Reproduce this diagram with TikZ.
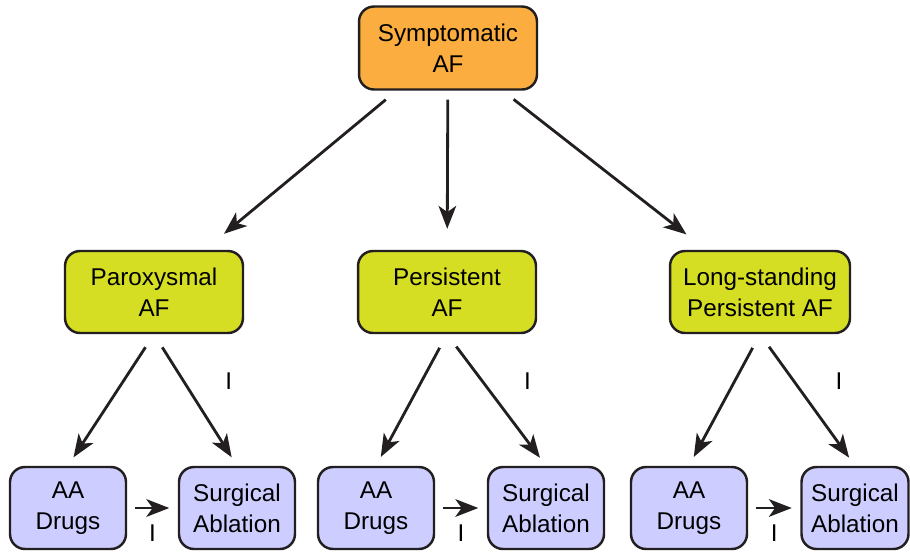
\documentclass[tikz,border=0pt]{standalone}
\usepackage{fontspec}
\setmainfont{Liberation Sans}
\usetikzlibrary{arrows.meta}
\definecolor{symorange}{HTML}{FBAE3F}
\definecolor{typegreen}{HTML}{D6DE23}
\definecolor{treatblue}{HTML}{CDCDFF}
\definecolor{edgegray}{HTML}{231F20}
\tikzset{
  afbox/.style={draw=edgegray, line width=1.4pt, rounded corners=0.3cm, align=center,
    font=\fontsize{13.8}{17.6}\selectfont, inner sep=2pt},
  topbox/.style={afbox, fill=symorange, minimum width=3.56cm, minimum height=1.66cm},
  typebox/.style={afbox, fill=typegreen, minimum width=3.56cm, minimum height=1.64cm},
  treatbox/.style={afbox, fill=treatblue, minimum width=2.32cm, minimum height=1.64cm},
  arr/.style={line width=1.6pt, draw=edgegray, -{Stealth[length=13pt,width=10pt,inset=3.5pt]}},
  cls/.style={font=\fontsize{13.8}{17.6}\selectfont, inner sep=0pt}
}
\begin{document}
\begin{tikzpicture}[x=0.02cm, y=-0.02cm]
 \useasboundingbox (0,0) rectangle (910,552);
 \node[topbox] at (448, 48)  (sym)    {Symptomatic\\AF};

 \node[typebox] at (154, 292)  (par)    {Paroxysmal\\AF};
 \node[typebox] at (447, 292)  (per)    {Persistent\\AF};
 \node[typebox, minimum width=3.6cm] at (760, 292)  (lsp)    {Long-standing\\Persistent AF};

 \node[treatbox] at (68, 508)  (aa1)    {AA\\Drugs};
 \node[treatbox] at (237, 508)  (sa1)    {Surgical\\Ablation};
 \node[treatbox] at (376, 508)  (aa2)    {AA\\Drugs};
 \node[treatbox] at (546, 508)  (sa2)    {Surgical\\Ablation};
 \node[treatbox] at (689, 508)  (aa3)    {AA\\Drugs};
 \node[treatbox, minimum width=2.14cm] at (855, 508)  (sa3)    {Surgical\\Ablation};

 \draw [arr, shorten <=0.28cm, shorten >=0.5cm]  (sym) -- (par);
 \draw [arr, shorten <=0.18cm, shorten >=0.42cm]  (sym) -- (per);
 \draw [arr, shorten <=0.28cm, shorten >=0.5cm]  (sym) -- (lsp);

 \draw [arr, shorten <=0.31cm, shorten >=0.2cm]  (par.south) -- (aa1.north);
 \draw [arr, shorten <=0.31cm, shorten >=0.2cm]  (par.south) -- node[cls, pos=0.36, right=0.8cm] {I} (sa1.north);
 \draw [arr, shorten <=0.31cm, shorten >=0.2cm]  (per.south) -- (aa2.north);
 \draw [arr, shorten <=0.31cm, shorten >=0.2cm]  (per.south) -- node[cls, pos=0.36, right=0.8cm] {I} (sa2.north);
 \draw [arr, shorten <=0.31cm, shorten >=0.2cm]  (lsp.south) -- (aa3.north);
 \draw [arr, shorten <=0.31cm, shorten >=0.2cm]  (lsp.south) -- node[cls, pos=0.36, right=0.8cm] {I} (sa3.north);

 \draw [arr, shorten <=0.15cm, shorten >=0.17cm]  (aa1) -- node[cls, below=0.3cm] {I} (sa1);
 \draw [arr, shorten <=0.15cm, shorten >=0.17cm]  (aa2) -- node[cls, below=0.3cm] {I} (sa2);
 \draw [arr, shorten <=0.15cm, shorten >=0.17cm]  (aa3) -- node[cls, below=0.3cm] {I} (sa3);
\end{tikzpicture}
\end{document}
